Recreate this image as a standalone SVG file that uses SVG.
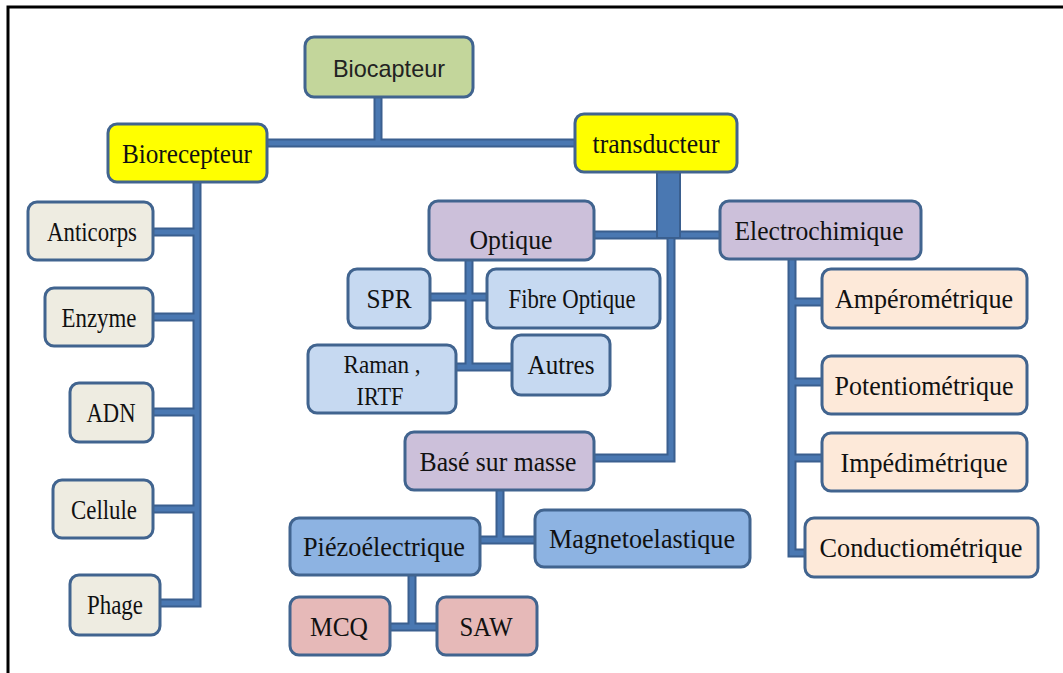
<svg xmlns="http://www.w3.org/2000/svg" xmlns:xlink="http://www.w3.org/1999/xlink" width="1063" height="673" viewBox="0 0 1063 673">
<style>
.n rect{stroke:#41648f;stroke-width:3}
.t{font-family:"Liberation Serif","Times New Roman",serif;font-size:28px;fill:#111;text-anchor:middle}
.s{font-family:"Liberation Sans",Arial,sans-serif;font-size:24px;fill:#222;text-anchor:middle}
.eo{fill:none;stroke:#3a5f8f;stroke-width:9;stroke-linejoin:miter}
.ei{fill:none;stroke:#4a78b2;stroke-width:5;stroke-linejoin:miter}
.green{fill:#c3d69b}.yel{fill:#ffff00}.lil{fill:#ccc0da}.lb{fill:#c6d9f1}.mb{fill:#8db3e2}.pk{fill:#e6b9b8}.gr{fill:#eeece1}.pe{fill:#fde9d9}
</style>
<defs>
<path id="edges" d="M378,97 V143 M267,143 H575 M197,182 V603 H160 M153,232 H197 M153,317 H197 M153,412 H197 M153,509 H197 M594,235 H720 M671,238 V458 H594 M792,259 V553 H805 M792,302 H822 M792,382 H822 M792,458 H822 M469,261 V367 M430,297 H487 M456,367 H512 M500,490 V540 M480,540 H535 M412,575 V627 M390,627 H437"/>
</defs>
<rect width="1063" height="673" fill="#fff"/>
<path d="M8,673 V7 H1063" fill="none" stroke="#000" stroke-width="3"/>
<g id="connectors">
<use xlink:href="#edges" class="eo"/>
<use xlink:href="#edges" class="ei"/>
<rect x="657" y="172" width="23" height="66" fill="#4a78b2" stroke="#3a5f8f" stroke-width="2"/>
</g>
<g id="biocapteur" class="n"><rect x="305" y="37" width="168" height="60" rx="9" class="green"/><text x="389" y="77" class="s" textLength="112" lengthAdjust="spacingAndGlyphs">Biocapteur</text></g>
<g id="biorecepteur" class="n"><rect x="108" y="124" width="159" height="58" rx="9" class="yel"/><text x="187" y="163" class="t" textLength="130" lengthAdjust="spacingAndGlyphs">Biorecepteur</text></g>
<g id="transducteur" class="n"><rect x="575" y="114" width="162" height="58" rx="9" class="yel"/><text x="656" y="153" class="t" textLength="127" lengthAdjust="spacingAndGlyphs">transducteur</text></g>
<g id="optique" class="n"><rect x="429" y="201" width="165" height="59" rx="9" class="lil"/><text x="511" y="249" class="t" textLength="83" lengthAdjust="spacingAndGlyphs">Optique</text></g>
<g id="electrochimique" class="n"><rect x="720" y="201" width="201" height="58" rx="9" class="lil"/><text x="819" y="240" class="t" textLength="169" lengthAdjust="spacingAndGlyphs">Electrochimique</text></g>
<g id="spr" class="n"><rect x="348" y="269" width="82" height="59" rx="9" class="lb"/><text x="389" y="308" class="t" textLength="45" lengthAdjust="spacingAndGlyphs">SPR</text></g>
<g id="fibre" class="n"><rect x="487" y="269" width="173" height="59" rx="9" class="lb"/><text x="572" y="308" class="t" textLength="127" lengthAdjust="spacingAndGlyphs">Fibre Optique</text></g>
<g id="raman" class="n"><rect x="308" y="345" width="148" height="68" rx="9" class="lb"/><text x="382" y="373" class="t" style="font-size:26px" textLength="77" lengthAdjust="spacingAndGlyphs">Raman ,</text><text x="380" y="405" class="t" style="font-size:26px" textLength="47" lengthAdjust="spacingAndGlyphs">IRTF</text></g>
<g id="autres" class="n"><rect x="512" y="335" width="98" height="60" rx="9" class="lb"/><text x="561" y="374" class="t" textLength="67" lengthAdjust="spacingAndGlyphs">Autres</text></g>
<g id="base-masse" class="n"><rect x="405" y="432" width="189" height="58" rx="9" class="lil"/><text x="498" y="471" class="t" textLength="157" lengthAdjust="spacingAndGlyphs">Basé sur masse</text></g>
<g id="piezo" class="n"><rect x="290" y="518" width="190" height="57" rx="9" class="mb"/><text x="384" y="556" class="t" textLength="162" lengthAdjust="spacingAndGlyphs">Piézoélectrique</text></g>
<g id="magneto" class="n"><rect x="535" y="510" width="215" height="57" rx="9" class="mb"/><text x="642" y="548" class="t" textLength="186" lengthAdjust="spacingAndGlyphs">Magnetoelastique</text></g>
<g id="mcq" class="n"><rect x="290" y="597" width="100" height="58" rx="9" class="pk"/><text x="339" y="636" class="t" textLength="58" lengthAdjust="spacingAndGlyphs">MCQ</text></g>
<g id="saw" class="n"><rect x="437" y="597" width="100" height="58" rx="9" class="pk"/><text x="486" y="636" class="t" textLength="53" lengthAdjust="spacingAndGlyphs">SAW</text></g>
<g id="anticorps" class="n"><rect x="28" y="202" width="125" height="58" rx="9" class="gr"/><text x="92" y="241" class="t" textLength="90" lengthAdjust="spacingAndGlyphs">Anticorps</text></g>
<g id="enzyme" class="n"><rect x="45" y="288" width="108" height="58" rx="9" class="gr"/><text x="99" y="327" class="t" textLength="75" lengthAdjust="spacingAndGlyphs">Enzyme</text></g>
<g id="adn" class="n"><rect x="70" y="383" width="83" height="59" rx="9" class="gr"/><text x="111" y="422" class="t" textLength="49" lengthAdjust="spacingAndGlyphs">ADN</text></g>
<g id="cellule" class="n"><rect x="53" y="480" width="100" height="58" rx="9" class="gr"/><text x="104" y="519" class="t" textLength="66" lengthAdjust="spacingAndGlyphs">Cellule</text></g>
<g id="phage" class="n"><rect x="70" y="575" width="90" height="60" rx="9" class="gr"/><text x="115" y="614" class="t" textLength="56" lengthAdjust="spacingAndGlyphs">Phage</text></g>
<g id="amperometrique" class="n"><rect x="822" y="269" width="205" height="59" rx="9" class="pe"/><text x="924" y="308" class="t" textLength="178" lengthAdjust="spacingAndGlyphs">Ampérométrique</text></g>
<g id="potentiometrique" class="n"><rect x="822" y="356" width="205" height="58" rx="9" class="pe"/><text x="924" y="395" class="t" textLength="179" lengthAdjust="spacingAndGlyphs">Potentiométrique</text></g>
<g id="impedimetrique" class="n"><rect x="822" y="433" width="205" height="58" rx="9" class="pe"/><text x="924" y="472" class="t" textLength="167" lengthAdjust="spacingAndGlyphs">Impédimétrique</text></g>
<g id="conductimetrique" class="n"><rect x="805" y="518" width="233" height="59" rx="9" class="pe"/><text x="921" y="557" class="t" textLength="203" lengthAdjust="spacingAndGlyphs">Conductiométrique</text></g>
</svg>
